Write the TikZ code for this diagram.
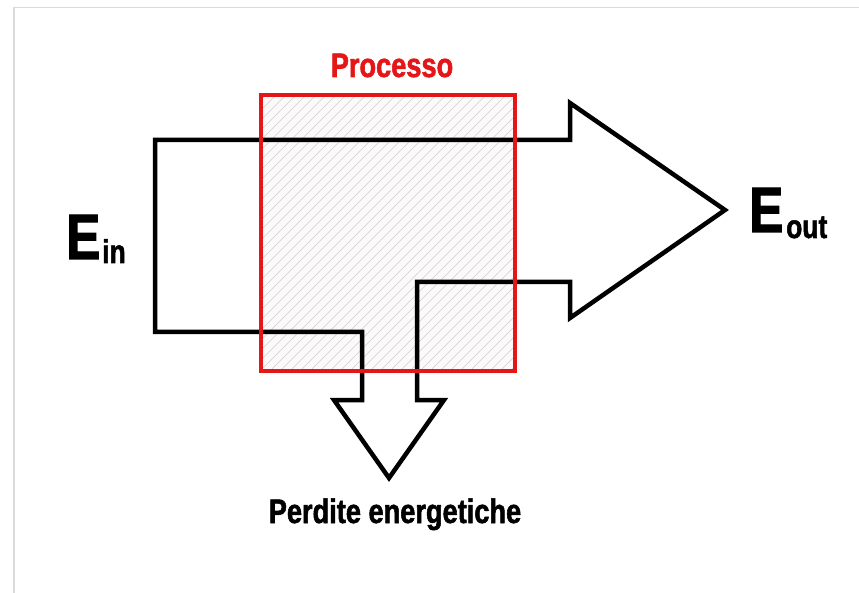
\documentclass[tikz,border=0pt]{standalone}
\usepackage{fontspec}
\newfontfamily\headfont[FakeStretch=0.80, FakeBold=1.6]{Liberation Sans}
\definecolor{procred}{RGB}{228,22,24}
\definecolor{hatchgray}{RGB}{208,206,206}
\definecolor{framegray}{RGB}{218,218,218}
\definecolor{procfill}{RGB}{251,249,249}
\tikzset{
  flow/.style={draw=black, line width=4.5pt, line join=miter, fill=none},
  procbox/.style={draw=procred, line width=4pt},
  hatchline/.style={draw=hatchgray, line width=0.6pt},
  bigE/.style={font=\headfont\bfseries\fontsize{64}{64}\selectfont, inner sep=0pt},
  sublabel/.style={font=\headfont\bfseries\fontsize{33}{33}\selectfont, inner sep=0pt},
  caption/.style={font=\headfont\bfseries\fontsize{34}{34}\selectfont, inner sep=0pt},
}
\begin{document}
\begin{tikzpicture}[x=1pt,y=-1pt]
\useasboundingbox (0,0) rectangle (859,593);
% page frame
\draw[framegray, line width=1.5pt] (14,593) -- (14,7.5) -- (859,7.5);

% process area: light fill with diagonal hatching
\coordinate (pTL) at (261,95);
\coordinate (pBR) at (515,371);
\fill[procfill] (pTL) rectangle (pBR);
\begin{scope}
  \clip (pTL) rectangle (pBR);
  \foreach \a in {-20,-10,...,520}
    \draw[hatchline] (\a,371) -- (\a+276,95);
\end{scope}

% energy flow outline: input band, output arrow, loss arrow
\draw[flow]
  (155,140) -- (570,140) -- (570,103) -- (725,210) -- (570,318)
  -- (570,282) -- (417,282) -- (417,400) -- (444,400) -- (389,478)
  -- (334,400) -- (362,400) -- (362,332) -- (155,332) -- cycle;

% process boundary on top
\draw[procbox] (pTL) rectangle (pBR);

% labels
\node[caption, text=procred, anchor=base] (proc) at (392,77) {Processo};
\node[bigE, anchor=base west] (ein) at (66,259) {E};
\node[sublabel, anchor=base west] (einsub) at (102,263) {in};
\node[bigE, anchor=base west] (eout) at (749,232) {E};
\node[sublabel, anchor=base west] (eoutsub) at (786,238) {out};
\node[caption, anchor=base] (loss) at (395,523) {Perdite energetiche};
\end{tikzpicture}
\end{document}
